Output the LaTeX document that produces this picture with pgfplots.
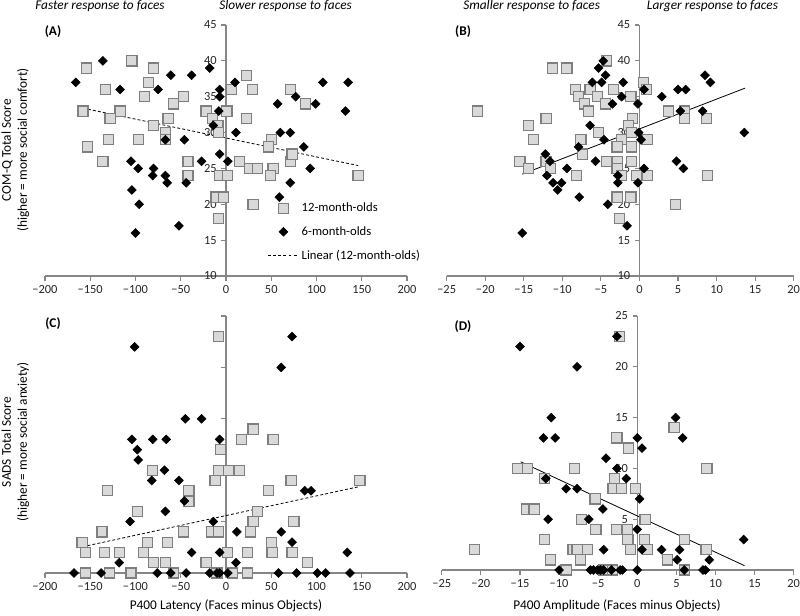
\documentclass[border=0pt]{standalone}
\usepackage{fontspec}
\setmainfont{Carlito}
\usepackage{pgfplots}
\pgfplotsset{compat=1.18}
\definecolor{sqfill}{HTML}{D9D9D9}
\definecolor{sqedge}{HTML}{7F7F7F}
\definecolor{axisgray}{HTML}{868686}
\newcommand{\ticksize}{\fontsize{9.3}{11}\selectfont}
\newcommand{\legsize}{\fontsize{9.5}{11}\selectfont}
\newcommand{\labsize}{\fontsize{10}{12}\selectfont}
\pgfplotsset{
  sq/.style={only marks, mark=square*, mark size=3.8pt, mark options={fill=sqfill, draw=sqedge, line width=0.9pt}},
  dm/.style={only marks, mark=square*, mark size=2.35pt, mark options={rotate=45, fill=black, draw=black}},
  panel/.style={
    scale only axis, anchor=south west,
    axis x line*=bottom, axis y line*=middle,
    axis line style={draw=axisgray, line width=0.9pt},
    tick style={draw=axisgray, line width=0.9pt},
    tick align=outside, major tick length=3.5pt,
    hide obscured x ticks=false, hide obscured y ticks=false,
    clip=false,
    tick label style={font=\ticksize, text=black!85},
    /pgf/number format/assume math mode=true,
    legend image code/.code={\draw[mark repeat=2,mark phase=2,#1] plot coordinates {(0cm,0cm) (0.4cm,0cm) (0.8cm,0cm)};},
  },
  latx/.style={xmin=-200, xmax=200, xtick={-200,-150,...,200},
    xticklabels={−200,−150,−100,−50,0,50,100,150,200}},
  ampx/.style={xmin=-25, xmax=20, xtick={-25,-20,...,20},
    xticklabels={−25,−20,−15,−10,−5,0,5,10,15,20}},
}
\begin{document}
\begin{tikzpicture}
\path[use as bounding box] (0,0) rectangle (600pt,-461.25pt);

% ---------------- Panel A ----------------
\begin{axis}[panel, latx, at={(33.75pt,-207pt)}, width=271.5pt, height=188.25pt,
  ymin=10, ymax=45, ytick={10,15,...,45},
  legend style={at={(axis cs:46,20.6)}, anchor=north west, draw=none, fill=none,
    font=\legsize, row sep=5.5pt, inner sep=0pt, cells={anchor=west}}]
\addplot[sq] coordinates {(-154,39) (-104,40) (-80,39) (-86,37) (-133,36) (-90,35) (-47,35) (-58,34) (-158,33) (-117,33) (-128,32) (-64,32) (-80,31) (-67,30) (-67,29) (-153,28) (-130,29) (-97,29) (-136,26) (-42,26) (-42,24) (-22,33) (-15,32) (-9,31) (-8,30) (1,33) (6,36) (23,38) (29,36) (23,32) (15,26) (26,25) (35,25) (-7,24) (2,24) (-11,21) (-3,21) (-8,18) (30,20) (50,29) (47,28) (52,25) (49,24) (71,36) (88,34) (71,26) (73,27) (146,24)};
\addlegendentry{12-month-olds}
\addplot[dm] coordinates {(-166,37) (-136,40) (-117,36) (-75,36) (-61,38) (-38,38) (-18,39) (-7,36) (-7,35) (-8,33) (-14,31) (-67,29) (-46,29) (-7,27) (10,37) (11,30) (2,26) (-27,26) (-105,26) (-97,25) (-80,25) (-81,24) (-67,24) (-65,23) (-44,23) (-104,22) (-96,20) (-52,17) (-100,16) (57,34) (77,35) (99,34) (107,37) (135,37) (132,33) (60,30) (71,30) (86,28) (93,25) (71,23) (59,21)};
\addlegendentry{6-month-olds}
\addplot[black, line width=0.6pt, dash pattern=on 2.2pt off 1.6pt, mark=none] coordinates {(-158,33.4) (146,25.4)};
\addlegendentry{Linear (12-month-olds)}
\end{axis}

% ---------------- Panel B ----------------
\begin{axis}[panel, ampx, at={(335pt,-207pt)}, width=260.25pt, height=188.25pt,
  ymin=10, ymax=45, ytick={10,15,...,45}]
\addplot[sq] coordinates {(-21,33) (-11.3,39) (-9.4,39) (-4.3,40) (-8.3,36) (-7.9,35) (-7.1,34) (-6.6,33) (-6.4,36) (-5.4,35) (-4.4,34) (-3.4,36) (-1.1,35) (0.5,37) (0.9,36) (-0.9,32) (-1.4,31) (-1,30) (-2.3,29) (-5.3,30) (-7.6,29) (-7.4,27) (-2.9,28) (-1,28) (1,29) (-12.1,32) (-14.4,31) (-13.7,29) (-15.5,26) (-14.4,25) (-12.1,26) (-11.5,25) (-8.2,24) (-4.3,26) (-2.9,26) (-1,26) (-2.9,25) (-2.3,24) (-0.4,24) (1,24) (-2.9,21) (-1.1,21) (-2.6,18) (3.8,33) (5.8,33) (5.8,32) (8.7,32) (8.8,24) (4.7,20)};
\addplot[dm] coordinates {(-4.7,40) (-5.3,39) (-4.4,38) (-6.1,37) (-4.9,37) (-2.1,37) (-2.3,35) (-3.5,34) (-0.2,34) (0.6,36) (2.9,35) (5,36) (6,36) (8.5,38) (9.2,37) (5.3,33) (8.2,33) (13.6,30) (-6.4,31) (-0.1,30) (0.2,29) (-4.6,29) (-7.9,28) (-12.2,27) (-11.6,26) (-5.7,26) (-9.4,25) (0.6,25) (-12,24) (-11.2,23) (-10.1,23) (-10.6,22) (-2.8,24) (-2.8,23) (-0.2,23) (-7.8,21) (-4.1,20) (-1.6,17) (-15.2,16) (4.8,26) (5.7,25)};
\addplot[black, line width=0.6pt, mark=none] coordinates {(-15.2,24.2) (13.7,36.2)};
\end{axis}

% ---------------- Panel C ----------------
\begin{axis}[panel, latx, at={(33.75pt,-429.75pt)}, width=271.5pt, height=192.75pt,
  ymin=0, ymax=25, ytick={5,10,...,25}, yticklabels={}]
\addplot[sq] coordinates {(-8,23) (-6,12) (30,14) (17,13) (52,13) (-81,10) (-8,10) (3,10) (15,10) (-12,9) (72,9) (148,9) (-131,8) (-41,8) (-41,7) (47,8) (-98,6) (35,6) (30,5) (75,5) (-137,4) (-47,4) (-16,4) (-8,4) (27,4) (-159,3) (-87,3) (-65,3) (50,3) (-155,2) (-134,2) (-118,2) (-91,2) (2,2) (24,2) (51,2) (73,2) (-80,1) (-67,1) (-22,1) (90,1) (-155,0) (-129,0) (-105,0) (-58,0) (-10,0) (7,0) (24,0)};
\addplot[dm] coordinates {(-101,22) (73,23) (61,20) (-45,15) (-27,15) (-104,13) (-81,13) (-66,13) (-7,13) (-98,12) (-97,11) (-68,10) (-82,9) (-52,9) (-46,7) (87,8) (94,8) (-67,6) (-106,5) (-14,5) (12,4) (61,4) (73,3) (-38,2) (-7,2) (134,2) (-118,1) (11,1) (-168,0) (-138,0) (-76,0) (-61,0) (-44,0) (-18,0) (-10,0) (-7,0) (2,0) (58,0) (78,0) (101,0) (110,0) (137,0)};
\addplot[black, line width=0.6pt, dash pattern=on 2.2pt off 1.6pt, mark=none] coordinates {(-153,2.66) (148,8.42)};
\end{axis}

% ---------------- Panel D ----------------
\begin{axis}[panel, ampx, at={(331.3pt,-427.5pt)}, width=264pt, height=190.5pt,
  ymin=0, ymax=25, ytick={5,10,...,25}]
\addplot[sq] coordinates {(-2.3,23) (4.7,14) (-2.6,13) (-1.1,12) (-15.3,10) (-14,10) (-8,10) (8.9,10) (-11.9,9) (-2.9,9) (-3.1,8) (-2,8) (-0.2,8) (-5.4,7) (-14.2,6) (-13.2,6) (-7.1,5) (1,5) (-5.3,4) (-2.6,4) (-1.3,4) (-1.2,3) (0.9,3) (-11.9,3) (6,3) (-20.8,2) (-8.2,2) (-7.7,2) (-6.4,2) (-0.9,2) (1.3,2) (8.8,2) (-11.1,1) (-7.3,1) (3.9,1) (-9.1,0) (-4.3,0) (-3.2,0) (6,0)};
\addplot[dm] coordinates {(-15,22) (-7.7,20) (-2.6,23) (-11,15) (-12,13) (-10.5,13) (4.9,15) (5.8,13) (0,13) (0.6,12) (-4,11) (-2.6,10) (-1.4,9) (-11.7,9) (-9.1,8) (-7.7,8) (0.3,7) (-4.4,6) (-11.4,5) (-6.2,5) (0,4) (-4.3,2) (0.6,2) (3.1,2) (5.4,2) (13.6,3) (5.1,1) (9.2,1) (-10,0) (-6,0) (-5.6,0) (-5.1,0) (-4.7,0) (-4.3,0) (-3.3,0) (-2.2,0) (-1.9,0) (0,0) (6,0) (8.4,0) (8.7,0)};
\addplot[black, line width=0.6pt, mark=none] coordinates {(-14.9,10.65) (13.7,0.43)};
\end{axis}

% ---------------- Texts ----------------
\node[font=\itshape\labsize, anchor=west, inner sep=0pt] at (26.25pt,-4.5pt) {Faster response to faces};
\node[font=\itshape\labsize, anchor=west, inner sep=0pt] at (164.25pt,-4.5pt) {Slower response to faces};
\node[font=\itshape\labsize, anchor=west, inner sep=0pt] at (347.25pt,-4.5pt) {Smaller response to faces};
\node[font=\itshape\labsize, anchor=west, inner sep=0pt] at (485pt,-4.5pt) {Larger response to faces};
\node[font=\bfseries\labsize] at (39.75pt,-24pt) {(A)};
\node[font=\bfseries\labsize] at (347.25pt,-24pt) {(B)};
\node[font=\bfseries\labsize] at (39.75pt,-243pt) {(C)};
\node[font=\bfseries\labsize] at (347.25pt,-245.25pt) {(D)};
\node[font=\labsize, rotate=90, align=center] at (11.5pt,-112.5pt) {COM-Q Total Score\\(higher = more social comfort)};
\node[font=\labsize, rotate=90, align=center] at (11.5pt,-331.5pt) {SADS Total Score\\(higher = more social anxiety)};
\node[font=\labsize] at (169.5pt,-454pt) {P400 Latency (Faces minus Objects)};
\node[font=\labsize] at (462.75pt,-454pt) {P400 Amplitude (Faces minus Objects)};
\end{tikzpicture}
\end{document}
